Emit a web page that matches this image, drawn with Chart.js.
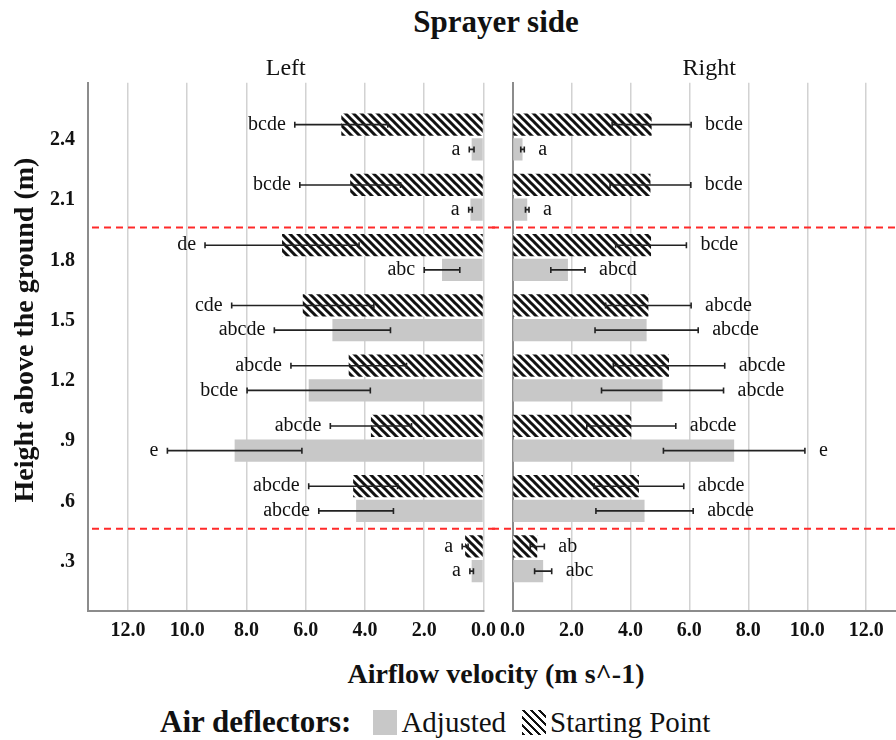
<!DOCTYPE html>
<html>
<head>
<meta charset="utf-8">
<script src="https://cdn.jsdelivr.net/npm/chart.js@4.4.1/dist/chart.umd.min.js"></script>
<style>
  html, body { margin: 0; padding: 0; width: 896px; height: 740px; overflow: hidden; background: #fff; }
  body { font-family: 'Liberation Serif', serif; color: #111; position: relative; }
  canvas { position: absolute; top: 40px; }
  #leftChart { left: 0; }
  #rightChart { left: 492px; }
  .title { position: absolute; left: 0; width: 992px; text-align: center; font-weight: bold; }
  #mainTitle { top: 4px; font-size: 31px; line-height: 36px; }
  #xTitle { top: 658px; left: 96px; width: 800px; font-size: 28px; line-height: 32px; }
  #yTitle { position: absolute; left: -176px; top: 314px; width: 400px; height: 32px; line-height: 32px;
            text-align: center; font-size: 28px; font-weight: bold; transform: rotate(-90deg); }
  #legend { position: absolute; left: 160px; top: 706px; height: 32px; display: flex; align-items: center; }
  #legend .lt { font-size: 31px; font-weight: bold; margin-right: 22px; }
  #legend .sw { width: 24px; height: 25px; margin-right: 4px; }
  #legend .lb { font-size: 29px; margin-right: 16px; }
  .adj { background: #c8c8c8; }
  .hat { background: repeating-linear-gradient(45deg, #111 0 2.8px, #fff 2.8px 5.66px); }
</style>
</head>
<body>
<div id="mainTitle" class="title">Sprayer side</div>
<canvas id="leftChart" width="500" height="611"></canvas>
<canvas id="rightChart" width="424" height="611"></canvas>
<div id="yTitle">Height above the ground (m)</div>
<div id="xTitle" class="title">Airflow velocity (m s^-1)</div>
<div id="legend">
  <span class="lt">Air deflectors:</span>
  <span class="sw adj"></span><span class="lb">Adjusted</span>
  <span class="sw hat"></span><span class="lb">Starting Point</span>
</div>

<script>
  // heights above the ground (m), top to bottom
  const heights = [2.4, 2.1, 1.8, 1.5, 1.2, 0.9, 0.6, 0.3];
  const heightLabels = ['2.4', '2.1', '1.8', '1.5', '1.2', '.9', '.6', '.3'];
  const xTicks = [0, 2, 4, 6, 8, 10, 12];
  // red dashed separators (between height groups)
  const zoneLines = [1.95, 0.45];

  // left side
  const leftStart = [4.8, 4.5, 6.8, 6.1, 4.55, 3.8, 4.4, 0.62];
  const leftStartErr = [1.57, 1.7, 2.6, 2.4, 1.95, 1.37, 1.5, 0.1];
  const leftStartLetters = ['bcde', 'bcde', 'de', 'cde', 'abcde', 'abcde', 'abcde', 'a'];
  const leftAdj = [0.4, 0.44, 1.4, 5.1, 5.9, 8.4, 4.3, 0.4];
  const leftAdjErr = [0.08, 0.06, 0.6, 1.96, 2.08, 2.27, 1.26, 0.06];
  const leftAdjLetters = ['a', 'a', 'abc', 'abcde', 'bcde', 'e', 'abcde', 'a'];

  // right side
  const rightStart = [4.72, 4.68, 4.7, 4.61, 5.31, 4.03, 4.29, 0.84];
  const rightStartErr = [1.34, 1.37, 1.2, 1.45, 1.89, 1.51, 1.52, 0.24];
  const rightStartLetters = ['bcde', 'bcde', 'bcde', 'abcde', 'abcde', 'abcde', 'abcde', 'ab'];
  const rightAdj = [0.34, 0.5, 1.88, 4.55, 5.09, 7.52, 4.48, 1.04];
  const rightAdjErr = [0.06, 0.06, 0.58, 1.75, 2.07, 2.4, 1.65, 0.29];
  const rightAdjLetters = ['a', 'a', 'abcd', 'abcde', 'abcde', 'e', 'abcde', 'abc'];

  Chart.defaults.font.family = "'Liberation Serif', serif";
  Chart.defaults.color = '#111';

  // black diagonal hatch for "Starting Point"
  function hatch() {
    const c = document.createElement('canvas');
    c.width = 8; c.height = 8;
    const g = c.getContext('2d');
    g.fillStyle = '#fff';
    g.fillRect(0, 0, 8, 8);
    g.strokeStyle = '#111';
    g.lineWidth = 3;
    g.beginPath();
    g.moveTo(-2, -2); g.lineTo(10, 10);
    g.moveTo(-2, 6); g.lineTo(2, 10);
    g.moveTo(6, -2); g.lineTo(10, 2);
    g.stroke();
    return g.createPattern(c, 'repeat');
  }
  const hatchFill = hatch();

  const errorBars = {
    id: 'errorBars',
    afterDatasetsDraw(chart, args, opts) {
      const ctx = chart.ctx, xs = chart.scales.x;
      chart.data.datasets.forEach((ds, di) => {
        chart.getDatasetMeta(di).data.forEach((bar, i) => {
          const v = ds.data[i].x, e = ds.err[i];
          const x1 = xs.getPixelForValue(v - e), x2 = xs.getPixelForValue(v + e);
          const y = bar.y;
          ctx.save();
          ctx.strokeStyle = '#222';
          ctx.lineWidth = 1.6;
          ctx.beginPath();
          ctx.moveTo(x1, y); ctx.lineTo(x2, y);
          ctx.moveTo(x1, y - 3); ctx.lineTo(x1, y + 3);
          ctx.moveTo(x2, y - 3); ctx.lineTo(x2, y + 3);
          ctx.stroke();
          ctx.font = "20px 'Liberation Serif'";
          ctx.fillStyle = '#111';
          ctx.textBaseline = 'middle';
          if (opts.side === 'left') {
            ctx.textAlign = 'right';
            ctx.fillText(ds.letters[i], x2 - 9, y);
          } else {
            ctx.textAlign = 'left';
            ctx.fillText(ds.letters[i], x2 + 14, y);
          }
          ctx.restore();
        });
      });
    }
  };

  const splitLines = {
    id: 'splitLines',
    afterDatasetsDraw(chart, args, opts) {
      const ctx = chart.ctx, ys = chart.scales.y, a = chart.chartArea;
      const x0 = opts.side === 'left' ? a.left + 4 : 0;
      const x1 = opts.side === 'left' ? chart.width : a.right;
      ctx.save();
      ctx.strokeStyle = '#ff2a2a';
      ctx.lineWidth = 2;
      ctx.setLineDash([7, 5]);
      zoneLines.forEach(v => {
        const y = ys.getPixelForValue(v);
        ctx.beginPath();
        ctx.moveTo(x0, y); ctx.lineTo(x1, y);
        ctx.stroke();
      });
      ctx.restore();
    }
  };

  function points(vals) {
    return heights.map((h, i) => ({x: vals[i], y: h}));
  }

  function makeChart(id, side, start, startErr, startLetters, adj, adjErr, adjLetters) {
    const isLeft = side === 'left';
    return new Chart(id, {
      type: 'bar',
      data: {
        datasets: [{
          label: 'Starting Point',
          data: points(start),
          err: startErr,
          letters: startLetters,
          backgroundColor: hatchFill,
          borderWidth: 0
        }, {
          label: 'Adjusted',
          data: points(adj),
          err: adjErr,
          letters: adjLetters,
          backgroundColor: '#c8c8c8',
          borderWidth: 0
        }]
      },
      options: {
        indexAxis: 'y',
        responsive: false,
        animation: false,
        categoryPercentage: 0.82,
        barPercentage: 0.9,
        layout: {padding: {left: 0, right: isLeft ? 16.5 : 10, top: 0, bottom: 0}},
        scales: {
          x: {
            type: 'linear',
            min: 0,
            max: 13.35,
            reverse: isLeft,
            afterBuildTicks: s => { s.ticks = xTicks.map(v => ({value: v})); },
            afterFit: s => { s.height = 40; },
            ticks: {
              callback: v => v.toFixed(1),
              font: {size: 20, weight: 'bold'},
              color: '#111',
              padding: 8,
              maxRotation: 0
            },
            grid: {color: '#d2d2d2', lineWidth: 1.5, drawTicks: false},
            border: {color: '#8c8c8c', width: 2}
          },
          y: {
            type: 'linear',
            offset: false,
            min: 0.04,
            max: 2.67,
            afterBuildTicks: s => { s.ticks = heights.map(v => ({value: v})); },
            afterFit: s => { s.width = isLeft ? 88 : 16; },
            ticks: {
              display: isLeft,
              callback: (v, i) => heightLabels[i],
              font: {size: 20, weight: 'bold'},
              color: '#111',
              padding: 5,
              labelOffset: 3
            },
            grid: {display: false, offset: false},
            border: {color: '#8c8c8c', width: 2}
          }
        },
        plugins: {
          legend: {display: false},
          tooltip: {enabled: false},
          title: {
            display: true,
            text: isLeft ? 'Left' : 'Right',
            fullSize: false,
            font: {size: 24, weight: 'normal'},
            color: '#111',
            padding: {top: 14, bottom: 0}
          },
          errorBars: {side: side},
          splitLines: {side: side}
        }
      },
      plugins: [errorBars, splitLines]
    });
  }

  makeChart('leftChart', 'left', leftStart, leftStartErr, leftStartLetters, leftAdj, leftAdjErr, leftAdjLetters);
  makeChart('rightChart', 'right', rightStart, rightStartErr, rightStartLetters, rightAdj, rightAdjErr, rightAdjLetters);
</script>
</body>
</html>
